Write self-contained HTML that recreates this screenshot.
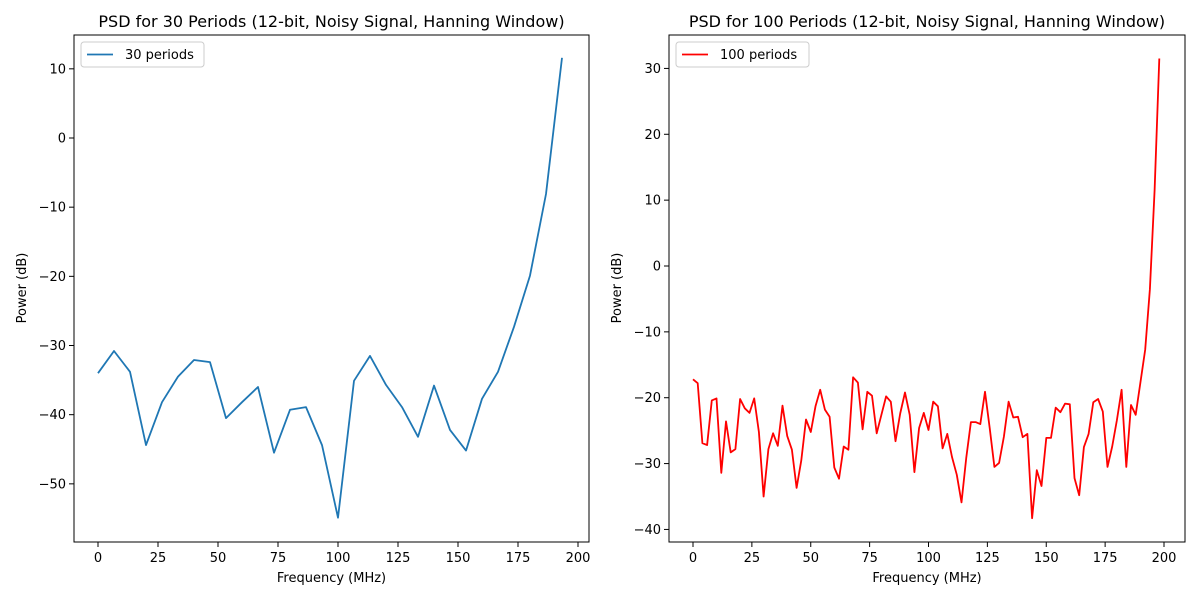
<!DOCTYPE html>
<html><head><meta charset="utf-8"><style>
body{margin:0;background:#fff;}
svg{font-family:"DejaVu Sans","Liberation Sans",sans-serif;}
</style></head><body>
<svg id="fig" width="1200" height="600" viewBox="0 0 1200 600"></svg>
<script>
const freqs30 = [];
for (let i=0;i<30;i++) freqs30.push(i*200/30);
const power30 = [-34.0,-30.8,-33.8,-44.4,-38.2,-34.5,-32.1,-32.4,-40.5,-38.2,-36.0,-45.5,-39.3,-38.9,-44.4,-54.9,-35.1,-31.5,-35.7,-38.9,-43.2,-35.8,-42.2,-45.2,-37.7,-33.8,-27.3,-19.9,-8.1,11.6];
const freqs100 = [];
for (let i=0;i<100;i++) freqs100.push(i*2);
const power100 = [-17.2,-17.8,-26.9,-27.2,-20.4,-20.1,-31.4,-23.6,-28.3,-27.8,
-20.2,-21.6,-22.3,-20.1,-25.2,-35.0,-27.8,-25.4,-27.3,-21.2,
-25.8,-27.9,-33.7,-29.5,-23.3,-25.2,-21.3,-18.8,-21.8,-22.9,
-30.6,-32.3,-27.4,-27.9,-16.9,-17.7,-24.8,-19.1,-19.7,-25.4,
-22.6,-19.8,-20.6,-26.6,-22.4,-19.2,-22.6,-31.3,-24.6,-22.3,
-24.9,-20.6,-21.3,-27.7,-25.5,-29.0,-31.7,-35.9,-29.2,-23.7,
-23.7,-24.0,-19.1,-24.6,-30.5,-29.9,-25.9,-20.6,-23.0,-22.9,
-26.0,-25.5,-38.3,-31.0,-33.4,-26.1,-26.1,-21.5,-22.2,-20.9,
-21.0,-32.2,-34.8,-27.5,-25.5,-20.7,-20.2,-22.1,-30.5,-27.4,
-23.4,-18.8,-30.5,-21.1,-22.6,-17.6,-12.7,-3.5,11.5,31.5];
const xTicks = [0,25,50,75,100,125,150,175,200];
const yTicksLeft = [10,0,-10,-20,-30,-40,-50];
const yTicksRight = [30,20,10,0,-10,-20,-30,-40];

const NS="http://www.w3.org/2000/svg";
const svg=document.getElementById('fig');
function mk(tag,attrs,parent){const e=document.createElementNS(NS,tag);for(const k in attrs)e.setAttribute(k,attrs[k]);(parent||svg).appendChild(e);return e;}
function fmt(v){return v<0?'\u2212'+Math.abs(v):String(v);}

function panel(cfg){
  const g=mk('g',{});
  
  
  const sx=v=>cfg.x0+v*cfg.kx, sy=v=>cfg.y0-v*cfg.ky;
  const frame=mk('rect',{x:cfg.L,y:35,width:cfg.W,height:507,fill:'none',stroke:'#000','stroke-width':1},g);
  
  
  xTicks.forEach(t=>{const x=sx(t);
    mk('line',{x1:x,y1:542,x2:x,y2:547,stroke:'#000'},g);
    const tx=mk('text',{x:x,y:562,'font-size':13,'text-anchor':'middle'},g);tx.textContent=t;
    
    });
  cfg.yt.forEach(t=>{const y=sy(t);
    mk('line',{x1:cfg.L-5,y1:y,x2:cfg.L,y2:y,stroke:'#000'},g);
    const tx=mk('text',{x:cfg.L-8,y:y+4.5,'font-size':13,'text-anchor':'end'},g);tx.textContent=fmt(t);
    
    });
  const pts=cfg.xs.map((x,i)=>sx(x).toFixed(1)+','+sy(cfg.ys[i]).toFixed(1)).join(' ');
  const pl=mk('polyline',{points:pts,fill:'none',stroke:cfg.color,'stroke-width':1.8,'stroke-linejoin':'round'},g);
  
  
  const t=mk('text',{x:cfg.L+cfg.W/2,y:27,'font-size':16,'text-anchor':'middle'},g);t.textContent=cfg.title;
  
  
  const xl=mk('text',{x:cfg.L+cfg.W/2,y:582,'font-size':13,'text-anchor':'middle'},g);xl.textContent='Frequency (MHz)';
  
  
  const yl=mk('text',{x:0,y:0,'font-size':13,'text-anchor':'middle',transform:`translate(${cfg.L-48},288) rotate(-90)`},g);yl.textContent='Power (dB)';
  
  
  const lg=mk('g',{},g);
  
  
  mk('rect',{x:cfg.L+7,y:42,width:cfg.lw,height:25,rx:3,fill:'#fff',stroke:'#ccc'},lg);
  mk('line',{x1:cfg.L+13,y1:54.5,x2:cfg.L+39,y2:54.5,stroke:cfg.color,'stroke-width':1.8},lg);
  const lt=mk('text',{x:cfg.L+51,y:59,'font-size':13},lg);lt.textContent=cfg.label;
}
panel({name:'chart-30-periods',L:74,W:515,x0:98,kx:2.40,y0:138,ky:6.917,yt:yTicksLeft,xs:freqs30,ys:power30,color:'#1f77b4',
  title:'PSD for 30 Periods (12-bit, Noisy Signal, Hanning Window)',label:'30 periods',lw:123});
panel({name:'chart-100-periods',L:669,W:516,x0:693,kx:2.355,y0:266,ky:6.586,yt:yTicksRight,xs:freqs100,ys:power100,color:'#ff0000',
  title:'PSD for 100 Periods (12-bit, Noisy Signal, Hanning Window)',label:'100 periods',lw:133});
</script>
</body></html>
